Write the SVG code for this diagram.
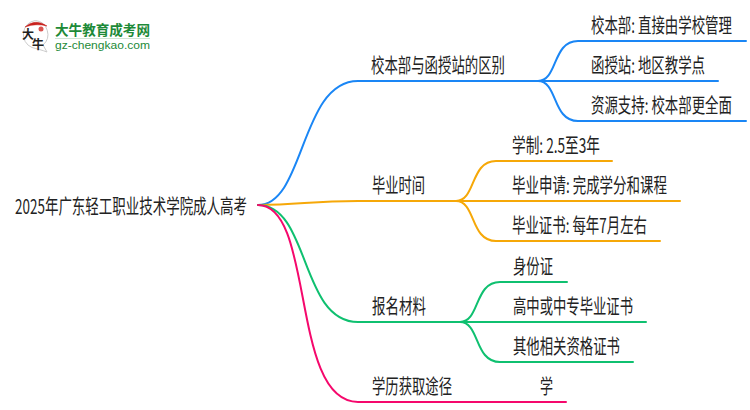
<svg xmlns="http://www.w3.org/2000/svg" width="750" height="410" viewBox="0 0 750 410">
<style>
text{font-family:"Noto Sans CJK SC","Liberation Sans",sans-serif;font-size:20px;fill:#222}
.c{fill:none;stroke-linecap:round;stroke-width:2}
.b{stroke:#1a86f5}.o{stroke:#f6a808}.g{stroke:#0fc070}.p{stroke:#f5086c}
</style>
<rect width="750" height="410" fill="#fff"/>
<g id="logo">
<path d="M35.500 20.500A13.500 14 0 0 0 32 47.500C37 49 42 50 47 52L43 45A14 14 0 0 0 35.500 20.500Z" fill="#fff" stroke="#ccc" stroke-width="1"/>
<path d="M25 27Q35 18 47 26Q36 23 25 27Z" fill="#c8201c" stroke="#c8201c" stroke-width=".5"/>
<circle cx="41" cy="29" r="2.500" fill="#d9534f"/>
<text x="22" y="39" style="font-size:12px;font-weight:700;fill:#222">大</text>
<text x="32" y="49" style="font-size:12px;font-weight:700;fill:#222">牛</text>
<text x="55" y="35" textLength="95" lengthAdjust="spacingAndGlyphs" style="font-size:14px;font-weight:700;fill:#1d8a38">大牛教育成考网</text>
<rect x="55" y="38" width="95" height="1" fill="#cfe5d4"/>
<text x="55" y="49" textLength="95" lengthAdjust="spacingAndGlyphs" style="font-family:'Liberation Sans',sans-serif;font-size:11px;fill:#1d8a38">gz-chengkao.com</text>
</g>
<g id="connectors">
<path class="c b" d="M258 205C305 205 300 81 358 81H538"/>
<path class="c b" d="M538 81C558 81 552 41 578 41H746"/>
<path class="c b" d="M538 81H718"/>
<path class="c b" d="M538 81C558 81 552 121 578 121H746"/>
<path class="c o" d="M258 205C300 205 310 201 358 201H456"/>
<path class="c o" d="M456 201C476 201 470 161 496 161H612"/>
<path class="c o" d="M456 201H680"/>
<path class="c o" d="M456 201C476 201 470 241 496 241H660"/>
<path class="c g" d="M258 205C310 205 300 322 358 322H460"/>
<path class="c g" d="M460 322C480 322 474 282 500 282H567"/>
<path class="c g" d="M460 322H646"/>
<path class="c g" d="M460 322C480 322 474 362 500 362H633"/>
<path class="c p" d="M258 205C315 205 290 402 358 402H566"/>
</g>
<g id="root"><text transform="translate(15 214) scale(.67 1)" textLength="346.300" lengthAdjust="spacingAndGlyphs">2025年广东轻工职业技术学院成人高考</text></g>
<g id="n1"><text transform="translate(371 73) scale(.67 1)" textLength="200" lengthAdjust="spacingAndGlyphs">校本部与函授站的区别</text></g>
<g id="n1a"><text transform="translate(591 33) scale(.67 1)" textLength="210.400" lengthAdjust="spacingAndGlyphs">校本部: 直接由学校管理</text></g>
<g id="n1b"><text transform="translate(591 73) scale(.67 1)" textLength="170.100" lengthAdjust="spacingAndGlyphs">函授站: 地区教学点</text></g>
<g id="n1c"><text transform="translate(591 113) scale(.67 1)" textLength="210.400" lengthAdjust="spacingAndGlyphs">资源支持: 校本部更全面</text></g>
<g id="n2"><text transform="translate(372 193) scale(.67 1)" textLength="79.100" lengthAdjust="spacingAndGlyphs">毕业时间</text></g>
<g id="n2a"><text transform="translate(512 153) scale(.67 1)" textLength="131.300" lengthAdjust="spacingAndGlyphs">学制: 2.5至3年</text></g>
<g id="n2b"><text transform="translate(512 193) scale(.67 1)" textLength="231.300" lengthAdjust="spacingAndGlyphs">毕业申请: 完成学分和课程</text></g>
<g id="n2c"><text transform="translate(512 233) scale(.67 1)" textLength="201.500" lengthAdjust="spacingAndGlyphs">毕业证书: 每年7月左右</text></g>
<g id="n3"><text transform="translate(372 314) scale(.67 1)" textLength="80.600" lengthAdjust="spacingAndGlyphs">报名材料</text></g>
<g id="n3a"><text transform="translate(513 274) scale(.67 1)" textLength="59.700" lengthAdjust="spacingAndGlyphs">身份证</text></g>
<g id="n3b"><text transform="translate(513 314) scale(.67 1)" textLength="179.100" lengthAdjust="spacingAndGlyphs">高中或中专毕业证书</text></g>
<g id="n3c"><text transform="translate(513 354) scale(.67 1)" textLength="159.700" lengthAdjust="spacingAndGlyphs">其他相关资格证书</text></g>
<g id="n4"><text transform="translate(372 394) scale(.67 1)" textLength="119.400" lengthAdjust="spacingAndGlyphs">学历获取途径</text></g>
<g id="n4a"><text transform="translate(540 394) scale(.67 1)" textLength="19.400" lengthAdjust="spacingAndGlyphs">学</text></g>
</svg>
